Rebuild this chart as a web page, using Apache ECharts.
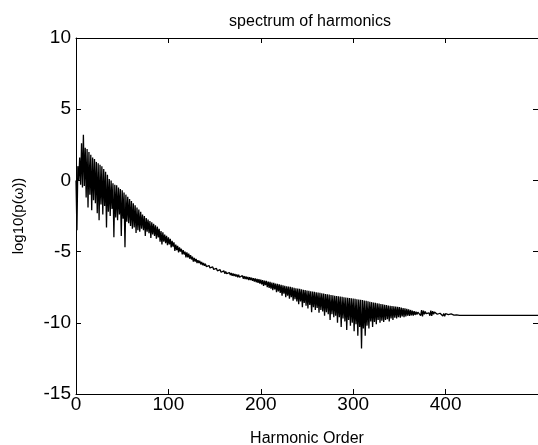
<!DOCTYPE html>
<html>
<head>
<meta charset="utf-8">
<title>spectrum of harmonics</title>
<script src="https://cdn.jsdelivr.net/npm/echarts@6/dist/echarts.min.js"></script>
<style>
	html, body { margin: 0; padding: 0; background: #fff; }
	#main { width: 538px; height: 445px; }
</style>
</head>
<body>
<div id="main"></div>
<script>
// spectrum: even orders sit on the top of the band,
// odd orders give the dips below it
const evenStart = 0;
const orderStep = 2;
const peakPower = [
	0.0, 1.0, 1.6, 2.6, 3.2, 2.3, 2.2, 2.0, 1.8, 1.6,
	1.5, 1.3, 1.2, 1.1, 1.0, 0.8, 0.6, 0.4, 0.1, 0.0,
	-0.2, -0.3, -0.35, -0.5, -0.6, -0.7, -0.85, -1.0, -1.15, -1.3,
	-1.45, -1.6, -1.75, -1.9, -2.05, -2.2, -2.4, -2.5, -2.65, -2.75,
	-2.85, -2.95, -3.05, -3.15, -3.25, -3.4, -3.55, -3.65, -3.8, -3.9,
	-4.0, -4.1, -4.25, -4.35, -4.5, -4.6, -4.7, -4.8, -4.9, -5.0,
	-5.05, -5.15, -5.25, -5.35, -5.45, -5.52, -5.6, -5.65, -5.72, -5.8,
	-5.85, -5.92, -5.98, -6.03, -6.08, -6.13, -6.18, -6.22, -6.27, -6.31,
	-6.35, -6.39, -6.43, -6.47, -6.5, -6.54, -6.57, -6.6, -6.63, -6.66,
	-6.69, -6.72, -6.75, -6.78, -6.8, -6.83, -6.86, -6.88, -6.91, -6.94,
	-6.97, -7.0, -7.03, -7.06, -7.1, -7.13, -7.17, -7.2, -7.24, -7.27,
	-7.3, -7.34, -7.37, -7.4, -7.43, -7.46, -7.48, -7.51, -7.54, -7.57,
	-7.6, -7.62, -7.65, -7.68, -7.7, -7.73, -7.75, -7.78, -7.8, -7.83,
	-7.85, -7.88, -7.9, -7.93, -7.95, -7.98, -8.0, -8.02, -8.05, -8.07,
	-8.1, -8.12, -8.14, -8.16, -8.18, -8.2, -8.22, -8.24, -8.26, -8.28,
	-8.3, -8.32, -8.34, -8.36, -8.38, -8.4, -8.43, -8.46, -8.49, -8.52,
	-8.55, -8.58, -8.6, -8.63, -8.65, -8.68, -8.7, -8.73, -8.75, -8.78,
	-8.8, -8.82, -8.84, -8.86, -8.88, -8.9, -8.93, -8.96, -8.99, -9.02,
	-9.06, -9.1, -9.14, -9.18, -9.22, -9.25, -9.12, -9.1, -9.15, -9.2,
	-9.28, -9.3, -9.15, -9.18, -9.25, -9.3, -9.32, -9.33, -9.34, -9.35,
	-9.36, -9.36, -9.37, -9.38, -9.4, -9.42, -9.44, -9.46
];
const dipPower = [
	-3.5, 0.0, -0.3, -0.5, -0.4, -1.2, -1.9, -1.0, -2.1, -1.4,
	-1.6, -2.3, -2.8, -1.7, -2.4, -1.8, -3.3, -2.2, -2.5, -2.0,
	-4.0, -2.6, -2.8, -2.4, -3.9, -2.7, -4.7, -2.9, -3.0, -3.2,
	-3.4, -3.3, -3.7, -3.5, -3.6, -3.4, -3.5, -3.9, -3.6, -3.7,
	-4.05, -3.8, -3.9, -4.1, -4.0, -4.3, -4.5, -4.3, -4.4, -4.55,
	-4.5, -4.7, -4.65, -4.95, -4.9, -5.05, -5.0, -5.2, -5.2, -5.4,
	-5.4, -5.5, -5.55, -5.7, -5.7, -5.8, -5.8, -5.9, -5.95, -6.0,
	-6.05, -6.1, -6.15, -6.25, -6.25, -6.3, -6.35, -6.4, -6.45, -6.45,
	-6.55, -6.55, -6.65, -6.65, -6.7, -6.72, -6.75, -6.8, -6.8, -6.85,
	-6.9, -6.92, -6.95, -7.0, -7.0, -7.05, -7.1, -7.15, -7.2, -7.25,
	-7.3, -7.4, -7.35, -7.5, -7.55, -7.6, -7.7, -7.65, -7.85, -7.8,
	-7.9, -8.1, -7.95, -8.2, -8.1, -8.3, -8.2, -8.45, -8.35, -8.5,
	-8.7, -8.5, -8.9, -8.6, -8.8, -9.0, -8.75, -9.25, -8.9, -9.1,
	-8.95, -9.3, -9.1, -9.2, -9.5, -9.25, -9.4, -9.8, -9.4, -9.6,
	-9.5, -10.0, -9.6, -10.3, -9.7, -9.9, -10.5, -9.8, -10.2, -10.0,
	-10.6, -10.1, -10.9, -10.3, -11.8, -10.4, -10.9, -10.2, -10.4, -9.9,
	-10.3, -9.95, -10.1, -9.8, -10.0, -9.85, -9.95, -9.8, -9.75, -9.9,
	-9.7, -9.8, -9.65, -9.7, -9.6, -9.65, -9.55, -9.6, -9.55, -9.5,
	-9.52, -9.48, -9.5, -9.45, -9.42, -9.38, -9.5, -9.55, -9.4, -9.36,
	-9.36, -9.5, -9.52, -9.4, -9.38, -9.4, -9.42, -9.4, -9.52, -9.54,
	-9.5, -9.42, -9.44, -9.45, -9.46, -9.47, -9.47, -9.48
];
// flat tail to the end of the axis
const tailOrders = [500];
const tailPower = [-9.48];

const xTicks = [0, 100, 200, 300, 400, 500];
const yTicks = [-15, -10, -5, 0, 5, 10];

let points = [];
for (let i = 0; i < peakPower.length; i++) {
	let order = evenStart + i * orderStep;
	points.push([order, peakPower[i]]);
	points.push([order + 1, dipPower[i]]);
}
for (let i = 0; i < tailOrders.length; i++) {
	points.push([tailOrders[i], tailPower[i]]);
}

const font = 'Liberation Sans, Arial, sans-serif';
const axisCommon = {
	axisLine: { show: true, onZero: false, lineStyle: { color: '#000', width: 1 } },
	axisTick: { show: true, inside: true, length: 5, lineStyle: { color: '#000' } },
	splitLine: { show: false }
};

let chart = echarts.init(document.getElementById('main'));

let option = {
	backgroundColor: '#fff',
	animation: false,
	title: {
		text: 'spectrum of harmonics',
		left: 305,
		textAlign: 'center',
		top: 9,
		textStyle: { color: '#000', fontSize: 16, fontWeight: 'normal', fontFamily: font }
	},
	grid: {
		left: 76,
		top: 38,
		width: 462,
		height: 356,
		containLabel: false,
		outerBoundsMode: 'none'
	},
	xAxis: [
		Object.assign({
			type: 'value',
			position: 'bottom',
			min: xTicks[0],
			max: xTicks[xTicks.length - 1],
			interval: 100,
			name: 'Harmonic Order',
			nameLocation: 'middle',
			nameGap: 37,
			nameTextStyle: { color: '#000', fontSize: 16, fontFamily: font },
			axisLabel: {
				color: '#000', fontSize: 19, fontFamily: font, margin: 1,
				showMaxLabel: false
			}
		}, axisCommon),
		Object.assign({
			type: 'value',
			position: 'top',
			min: xTicks[0],
			max: xTicks[xTicks.length - 1],
			interval: 100,
			axisLabel: { show: false }
		}, axisCommon)
	],
	yAxis: [
		Object.assign({
			type: 'value',
			position: 'left',
			min: yTicks[0],
			max: yTicks[yTicks.length - 1],
			interval: 5,
			name: 'log10(p(ω))',
			nameLocation: 'middle',
			nameGap: 50,
			nameRotate: 90,
			nameTextStyle: { color: '#000', fontSize: 15, fontFamily: font },
			axisLabel: { color: '#000', fontSize: 19, fontFamily: font, margin: 5 }
		}, axisCommon),
		Object.assign({
			type: 'value',
			position: 'right',
			min: yTicks[0],
			max: yTicks[yTicks.length - 1],
			interval: 5,
			axisLabel: { show: false }
		}, axisCommon)
	],
	series: [{
		type: 'line',
		data: points,
		symbol: 'none',
		lineStyle: { color: '#000', width: 1.3 }
	}]
};

chart.setOption(option);

window.onresize = function() {
	chart.resize();
};
</script>
</body>
</html>
